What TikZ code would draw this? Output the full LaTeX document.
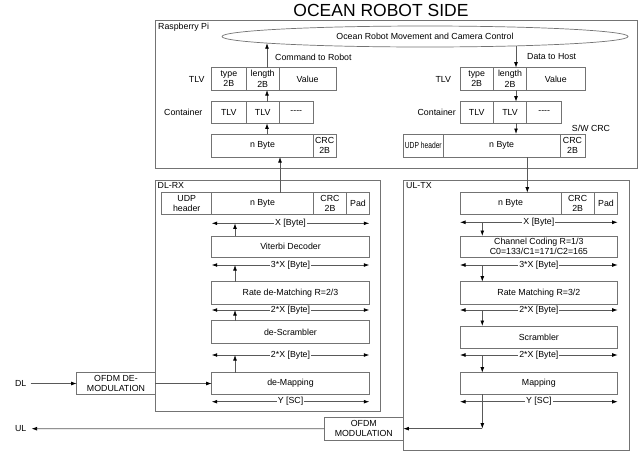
\documentclass[tikz,border=0pt]{standalone}
\usepackage{graphicx}
\usepackage{fontspec}
\setmainfont{Liberation Sans}
\usetikzlibrary{arrows.meta,shapes.geometric,calc}
\newcommand\smallfs{\fontsize{8.8}{10.3}\selectfont}
\newcommand\mkbox[7]{%
  \node[#2, minimum width={(#5-#3)*1pt}, minimum height={(#6-#4)*1pt}] (#1) at ({(#3+#5)/2},{(#4+#6)/2}) {#7};}
\tikzset{
  cellbox/.style={draw=black!55, line width=0.7pt, inner sep=0pt, outer sep=0pt, align=center, font=\smallfs},
  frame/.style={draw=black!55, line width=0.7pt, inner sep=0pt, outer sep=0pt},
  conn/.style={draw=black!65, line width=0.7pt, -{Latex[length=5.5pt,width=3.8pt,color=black]}},
  dimline/.style={draw=black!65, line width=0.7pt, {Latex[length=5.5pt,width=3.8pt,color=black]}-{Latex[length=5.5pt,width=3.8pt,color=black]}},
  dimlab/.style={fill=white, inner sep=1pt, font=\smallfs},
  lab/.style={font=\smallfs, inner sep=0pt},
}
\begin{document}
\begin{tikzpicture}[x=1pt,y=-1pt]
\useasboundingbox[fill=white] (0,0) rectangle (639,456);
% title
\node[font=\fontsize{17.5}{20}\selectfont] (title) at (381,10.5) {OCEAN ROBOT SIDE};
% Raspberry Pi
\mkbox{rpi}{frame}{155}{20}{637}{168.5}{}
\node[lab, anchor=west] (rpilab) at (158,27) {Raspberry Pi};
\node[ellipse, draw=black!55, line width=0.7pt, minimum width=406pt, minimum height=21pt, inner sep=0pt, outer sep=0pt, font=\smallfs] (ell) at (425,36.5) {Ocean Robot Movement and Camera Control};
% left TLV side
\mkbox{typeL}{cellbox}{211.7}{67.7}{246}{90}{type\\2B}
\mkbox{lenL}{cellbox}{246}{67.7}{279.3}{90}{length\\2B}
\mkbox{valL}{cellbox}{279.3}{67.7}{336}{90}{Value}
\node[lab] (tlvlabL) at (196.7,79) {TLV};
\mkbox{c1L}{cellbox}{211.7}{101.7}{246}{123.3}{TLV}
\mkbox{c2L}{cellbox}{246}{101.7}{279.3}{123.3}{TLV}
\mkbox{c3L}{cellbox}{279.3}{101.7}{313.3}{123.3}{{-}{-}{-}{-}}
\node[lab] (conlabL) at (183.3,112.5) {Container};
\mkbox{nbL}{cellbox}{211.7}{134}{313.3}{157}{n Byte}
\mkbox{crcL}{cellbox}{313.3}{134}{336}{157}{CRC\\2B}
% right TLV side
\mkbox{typeR}{cellbox}{460}{67.7}{493.3}{90}{type\\2B}
\mkbox{lenR}{cellbox}{493.3}{67.7}{526.7}{90}{length\\2B}
\mkbox{valR}{cellbox}{526.7}{67.7}{585}{90}{Value}
\node[lab] (tlvlabR) at (443.3,79) {TLV};
\mkbox{c1R}{cellbox}{460}{101.7}{493.3}{123.3}{TLV}
\mkbox{c2R}{cellbox}{493.3}{101.7}{526.7}{123.3}{TLV}
\mkbox{c3R}{cellbox}{526.7}{101.7}{561.7}{123.3}{{-}{-}{-}{-}}
\node[lab] (conlabR) at (436.7,112.5) {Container};
\mkbox{udpR}{cellbox}{403.3}{134}{443.3}{157}{\scalebox{0.76}[1]{UDP header}}
\mkbox{nbR}{cellbox}{443.3}{134}{560}{157}{n Byte}
\mkbox{crcR}{cellbox}{560}{134}{585}{157}{CRC\\2B}
\node[lab] (swcrc) at (591,128) {S/W CRC};
% Command / Data arrows
\coordinate (cmdE) at (267,43.1);
\coordinate (datE) at (516,45.9);
\draw[conn] (lenL.north -| cmdE) -- (cmdE);
\draw[conn] (datE) -- (lenR.north -| datE);
\node[lab, anchor=west] (cmdlab) at (275,57) {Command to Robot};
\node[lab, anchor=west] (datlab) at (527,57) {Data to Host};
\draw[conn] (c2L.north -| cmdE) -- (lenL.south -| cmdE);
\draw[conn] (nbL.north -| cmdE) -- (c2L.south -| cmdE);
\draw[conn] (lenR.south -| datE) -- (c2R.north -| datE);
\draw[conn] (c2R.south -| datE) -- (nbR.north -| datE);
% DL-RX
\mkbox{dlrx}{frame}{155}{180.7}{380}{411}{}
\node[lab, anchor=west] (dllab) at (157.5,185.5) {DL-RX};
\mkbox{dludp}{cellbox}{161.7}{192.7}{211.7}{214}{UDP\\header}
\mkbox{dlnb}{cellbox}{211.7}{192.7}{313.3}{214}{n Byte}
\mkbox{dlcrc}{cellbox}{313.3}{192.7}{346.7}{214}{CRC\\2B}
\mkbox{dlpad}{cellbox}{346.7}{192.7}{369.3}{214}{Pad}
\mkbox{vit}{cellbox}{211.7}{236}{369.3}{257.3}{Viterbi Decoder}
\mkbox{rdm}{cellbox}{211.7}{281.7}{369.3}{304}{Rate de-Matching R=2/3}
\mkbox{dsc}{cellbox}{211.7}{320.7}{369.3}{343.3}{de-Scrambler}
\mkbox{dmap}{cellbox}{211.7}{372.7}{369.3}{394}{de-Mapping}
\coordinate (da1) at (211.7,223.3); \coordinate (da2) at (369.3,223.3);
\coordinate (db1) at (211.7,265);   \coordinate (db2) at (369.3,265);
\coordinate (dc1) at (211.7,310);   \coordinate (dc2) at (369.3,310);
\coordinate (dd1) at (211.7,355);   \coordinate (dd2) at (369.3,355);
\coordinate (de1) at (211.7,401.7); \coordinate (de2) at (369.3,401.7);
\draw[dimline] (da1) -- node[dimlab] (dla) {X [Byte]} (da2);
\draw[dimline] (db1) -- node[dimlab] (dlb) {3*X [Byte]} (db2);
\draw[dimline] (dc1) -- node[dimlab] (dlc) {2*X [Byte]} (dc2);
\draw[dimline] (dd1) -- node[dimlab] (dld) {2*X [Byte]} (dd2);
\draw[dimline] (de1) -- node[dimlab] (dle) {Y [SC]} (de2);
\coordinate (dlx) at (235,0);
\draw[conn] (vit.north -| dlx) -- (da1 -| dlx);
\draw[conn] (rdm.north -| dlx) -- (db1 -| dlx);
\draw[conn] (dsc.north -| dlx) -- (dc1 -| dlx);
\draw[conn] (dmap.north -| dlx) -- (dd1 -| dlx);
\coordinate (upx) at (280,0);
\draw[conn] (dlnb.north -| upx) -- (nbL.south -| upx);
% UL-TX
\mkbox{ultx}{frame}{403.3}{180}{629.3}{450.7}{}
\node[lab, anchor=west] (ullab) at (406,185.5) {UL-TX};
\mkbox{ulnb}{cellbox}{460}{192.7}{561}{214}{n Byte}
\mkbox{ulcrc}{cellbox}{561}{192.7}{594.3}{214}{CRC\\2B}
\mkbox{ulpad}{cellbox}{594.3}{192.7}{617.7}{214}{Pad}
\mkbox{cc}{cellbox}{460}{236}{617.7}{257.3}{Channel Coding R=1/3\\C0=133/C1=171/C2=165}
\mkbox{rm}{cellbox}{460}{281.7}{617.7}{304}{Rate Matching R=3/2}
\mkbox{scr}{cellbox}{460}{326}{617.7}{348.3}{Scrambler}
\mkbox{map}{cellbox}{460}{372.7}{617.7}{394.3}{Mapping}
\coordinate (ua1) at (460,222.3);   \coordinate (ua2) at (617.7,222.3);
\coordinate (ub1) at (460,265);     \coordinate (ub2) at (617.7,265);
\coordinate (uc1) at (460,310);     \coordinate (uc2) at (617.7,310);
\coordinate (ud1) at (460,355);     \coordinate (ud2) at (617.7,355);
\coordinate (ue1) at (460,401.7);   \coordinate (ue2) at (617.7,401.7);
\draw[dimline] (ua1) -- node[dimlab] (ula) {X [Byte]} (ua2);
\draw[dimline] (ub1) -- node[dimlab] (ulb) {3*X [Byte]} (ub2);
\draw[dimline] (uc1) -- node[dimlab] (ulc) {2*X [Byte]} (uc2);
\draw[dimline] (ud1) -- node[dimlab] (uld) {2*X [Byte]} (ud2);
\draw[dimline] (ue1) -- node[dimlab] (ule) {Y [SC]} (ue2);
\coordinate (ulx) at (482.3,0);
\draw[conn] (ua1 -| ulx) -- (cc.north -| ulx);
\draw[conn] (ub1 -| ulx) -- (rm.north -| ulx);
\draw[conn] (uc1 -| ulx) -- (scr.north -| ulx);
\draw[conn] (ud1 -| ulx) -- (map.north -| ulx);
\coordinate (dnx) at (527.3,0);
\draw[conn] (nbR.south -| dnx) -- (ulnb.north -| dnx);
% OFDM blocks
\mkbox{ofdmdem}{cellbox}{76.7}{372.7}{155.3}{394.3}{OFDM DE-\\MODULATION}
\mkbox{ofdmmod}{cellbox}{324.3}{417.3}{403.3}{440}{OFDM\\MODULATION}
\node[lab] (dl) at (20.7,383.5) {DL};
\node[lab] (ul) at (20.7,428.7) {UL};
\draw[conn] ([xshift=4pt]dl.east) -- (ofdmdem.west);
\draw[conn] (ofdmdem.east) -- (ofdmdem.east -| dmap.west);
\coordinate (ucorner) at (ofdmmod.east -| ulx);
\draw[conn] (map.south -| ulx) -- (ucorner);
\draw[conn] (ucorner) -- (ofdmmod.east);
\draw[conn] (ofdmmod.west) -- ([xshift=5pt]ul.east);
\end{tikzpicture}
\end{document}
